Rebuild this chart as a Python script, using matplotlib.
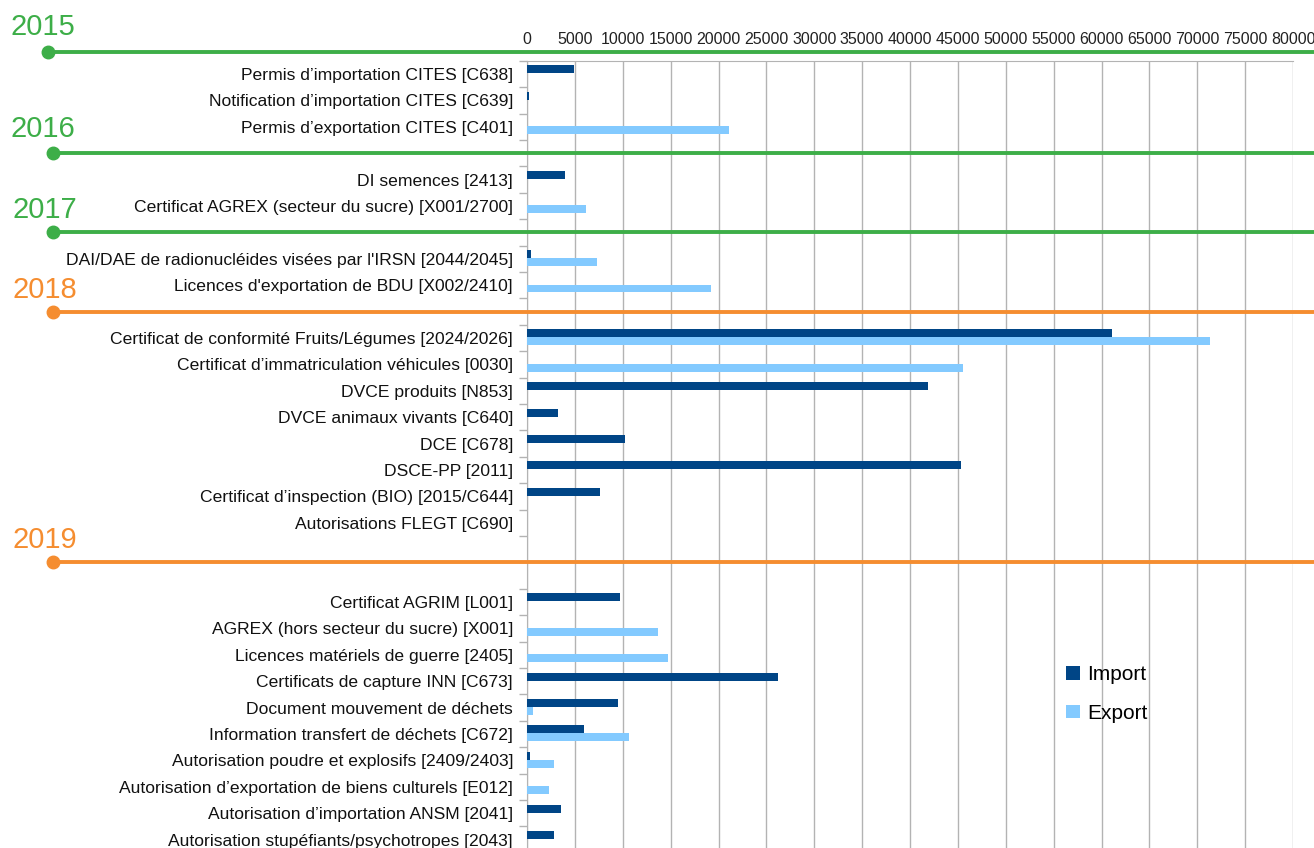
import matplotlib
matplotlib.use("Agg")
import matplotlib.pyplot as plt
from matplotlib.lines import Line2D
from matplotlib.patches import Patch
from matplotlib import transforms
import numpy as np

# Categories, top to bottom ('' = empty row used as spacer between years)
labels = [
    "Permis d\u2019importation CITES [C638]",
    "Notification d\u2019importation CITES [C639]",
    "Permis d\u2019exportation CITES [C401]",
    "",
    "DI semences [2413]",
    "Certificat AGREX (secteur du sucre) [X001/2700]",
    "",
    "DAI/DAE de radionucl\u00e9ides vis\u00e9es par l'IRSN [2044/2045]",
    "Licences d'exportation de BDU [X002/2410]",
    "",
    "Certificat de conformit\u00e9 Fruits/L\u00e9gumes [2024/2026]",
    "Certificat d\u2019immatriculation v\u00e9hicules [0030]",
    "DVCE produits [N853]",
    "DVCE animaux vivants [C640]",
    "DCE [C678]",
    "DSCE-PP [2011]",
    "Certificat d\u2019inspection (BIO) [2015/C644]",
    "Autorisations FLEGT [C690]",
    "",
    "",
    "Certificat AGRIM [L001]",
    "AGREX (hors secteur du sucre) [X001]",
    "Licences mat\u00e9riels de guerre [2405]",
    "Certificats de capture INN [C673]",
    "Document mouvement de d\u00e9chets",
    "Information transfert de d\u00e9chets [C672]",
    "Autorisation poudre et explosifs [2409/2403]",
    "Autorisation d\u2019exportation de biens culturels [E012]",
    "Autorisation d\u2019importation ANSM [2041]",
    "Autorisation stup\u00e9fiants/psychotropes [2043]",
]

import_vals = [4930, 170, 0, 0, 3980, 0, 0, 450, 0, 0,
               61050, 0, 41900, 3260, 10190, 45330, 7640, 0, 0, 0,
               9700, 0, 0, 26240, 9540, 5960, 320, 0, 3580, 2820]
export_vals = [0, 0, 21100, 0, 0, 6170, 0, 7290, 19210, 0,
               71360, 45490, 0, 0, 0, 0, 0, 0, 0, 0,
               0, 13720, 14740, 0, 650, 10630, 2820, 2280, 0, 0]

years = ["2015", "2016", "2017", "2018", "2019"]
year_pos = [-0.83, 3.0, 6.0, 9.0, 18.5]   # row position of each year separator
year_colors = ["#3dae48", "#3dae48", "#3dae48", "#f58d30", "#f58d30"]

xticks = list(range(0, 80001, 5000))

W, H = 1314, 848
fig = plt.figure(figsize=(W / 100, H / 100), dpi=100)
ax = fig.add_axes([527 / W, 1 - 852.7 / H, (1293 - 527) / W, 792 / H])

font = ["Liberation Sans", "DejaVu Sans"]

y = np.arange(len(labels))
ax.barh(y - 0.17, import_vals, height=0.3, color="#004586", zorder=3)
ax.barh(y + 0.13, export_vals, height=0.3, color="#83caff", zorder=3)

ax.set_xlim(0, 80000)
ax.set_ylim(len(labels) - 0.5, -0.5)

ax.xaxis.tick_top()
ax.set_xticks(xticks)
ax.set_xticklabels([str(t) for t in xticks], family=font, fontsize=11.5, color="#222222")
ax.tick_params(axis="x", length=0, pad=10)
ax.grid(axis="x", color="#b3b3b3", linewidth=1, zorder=0)

ax.set_yticks(y)
ax.set_yticklabels(labels, family=font, fontsize=12.6, color="#111111")
ax.set_yticks(np.arange(-0.5, len(labels) + 0.5, 1), minor=True)
ax.tick_params(axis="y", which="major", length=0, pad=10)
ax.tick_params(axis="y", which="minor", length=6, color="#b3b3b3", width=1)

for side in ["bottom", "right"]:
    ax.spines[side].set_visible(False)
for side in ["top", "left"]:
    ax.spines[side].set_color("#b3b3b3")

# year separators across the whole figure
trans = transforms.blended_transform_factory(fig.transFigure, ax.transData)
for i, (yr, yp, c) in enumerate(zip(years, year_pos, year_colors)):
    x0 = 48 / W if i == 0 else 53 / W
    fig.add_artist(Line2D([x0, 1.0], [yp, yp], transform=trans, color=c, linewidth=2.8, clip_on=False))
    fig.add_artist(Line2D([x0], [yp], transform=trans, marker="o", markersize=9, color=c, clip_on=False))
    tx = 11 / W if i < 2 else 13 / W
    off = 16.5 if i < 2 else 14.0
    fig.text(tx, yp, yr,
             transform=trans + transforms.ScaledTranslation(0, off / 100, fig.dpi_scale_trans),
             color=c, fontsize=21, family=font, va="baseline", ha="left")

handles = [Patch(facecolor="#004586", label="Import"), Patch(facecolor="#83caff", label="Export")]
fig.legend(handles=handles, loc="upper left", bbox_to_anchor=(1066 / W, 1 - 665 / H),
           frameon=False, prop={"family": font, "size": 15},
           handlelength=0.65, handleheight=0.65, handletextpad=0.35, labelspacing=0.95,
           borderpad=0, borderaxespad=0)

fig.savefig("out.png", dpi=100)
